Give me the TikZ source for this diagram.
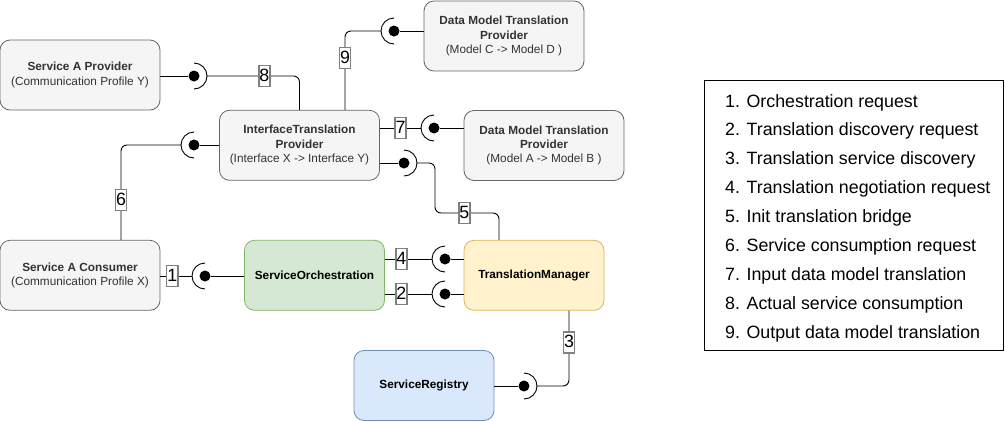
\documentclass[tikz,border=0pt]{standalone}
\usepackage{fontspec}
\setmainfont{Liberation Sans}
\usetikzlibrary{positioning, calc}
\definecolor{greyfill}{HTML}{F5F5F5}
\definecolor{greyline}{HTML}{666666}
\definecolor{greytext}{HTML}{333333}
\definecolor{greenfill}{HTML}{D5E8D4}
\definecolor{greenline}{HTML}{82B366}
\definecolor{yellowfill}{HTML}{FFF2CC}
\definecolor{yellowline}{HTML}{D6B656}
\definecolor{bluefill}{HTML}{DAE8FC}
\definecolor{blueline}{HTML}{6C8EBF}
\definecolor{numline}{HTML}{808080}

\begin{document}
\begin{tikzpicture}[x=1pt, y=-1pt,
  box/.style={draw=greyline, fill=greyfill, text=greytext, rounded corners=10pt,
    minimum width=160pt, minimum height=70pt, align=center, line width=0.8pt,
    font=\fontsize{11.8}{14.4}\selectfont},
  comp/.style={box, minimum width=140pt, text=black,
    font=\fontsize{11.8}{14.4}\selectfont\bfseries},
  num/.style={draw=numline, fill=white, sharp corners, line width=1.6pt, inner xsep=0.7pt, inner ysep=2pt,
    font=\fontsize{17.8}{20}\selectfont, text height=14pt, text depth=3pt},
  wire/.style={line width=0.9pt, rounded corners=6pt},
  ball/.style={circle, fill=black, inner sep=0pt, minimum size=11pt},
  item/.style={anchor=base west, inner sep=0pt, font=\fontsize{17.8}{20}\selectfont},
]
  \useasboundingbox (0,0) rectangle (1005,421);

  % components
  \node[box] (prov) at (80,75) {\textbf{Service A Provider}\\(Communication Profile Y)};
  \node[box] (itp) at (299.5,145.3) {\textbf{InterfaceTranslation}\\\textbf{Provider}\\(Interface X -> Interface Y)};
  \node[box] (dmcd) at (504,36) {\textbf{Data Model Translation}\\\textbf{Provider}\\(Model C -> Model D )};
  \node[box] (dmab) at (544,145.5) {\textbf{Data Model Translation}\\\textbf{Provider}\\(Model A -> Model B )};
  \node[box] (cons) at (80,275.3) {\textbf{Service A Consumer}\\(Communication Profile X)};
  \node[comp, draw=greenline, fill=greenfill] (orch) at (314.5,275.3) {ServiceOrchestration};
  \node[comp, draw=yellowline, fill=yellowfill] (tm) at (534,275.3) {TranslationManager};
  \node[comp, draw=blueline, fill=bluefill] (reg) at (424,385.5) {ServiceRegistry};

  % provided interfaces (balls)
  \node[ball] (b1) at (205,276) {};
  \node[ball] (b2) at (445,294) {};
  \node[ball] (b3) at (524,386) {};
  \node[ball] (b4) at (445,259) {};
  \node[ball] (b5) at (404,163) {};
  \node[ball] (b6) at (194,145) {};
  \node[ball] (b7) at (434,128) {};
  \node[ball] (b8) at (194,76) {};
  \node[ball] (b9) at (394,31) {};

  % required interfaces (sockets)
  \foreach \b/\d in {1/-1, 2/-1, 3/1, 4/-1, 5/1, 6/-1, 7/-1, 8/1, 9/-1} {
    \coordinate (s\b) at ($(b\b)+(\d*13,0)$);
    \draw[line width=0.9pt] ($(b\b)+(0,\d*13)$) arc[start angle={-90*\d}, end angle={-90*\d+180}, radius=13pt];
  }

  % connections
  \draw[wire] (cons.east |- b1) -- node[num, pos=0.375]{1} (s1);
  \draw[wire] (b1) -- (orch.west |- b1);
  \draw[wire] (orch.east |- b2) -- node[num, pos=0.35]{2} (s2);
  \draw[wire] (b2) -- (tm.west |- b2);
  \draw[wire] (s3) -| node[num, pos=0.79]{3} ([xshift=35pt]tm.south);
  \draw[wire] (reg.east |- b3) -- (b3);
  \draw[wire] (orch.east |- b4) -- node[num, pos=0.35]{4} (s4);
  \draw[wire] (b4) -- (tm.west |- b4);
  \draw[wire] (s5) -- ++(18,0) -- ++(0,50) -| node[num, pos=0.23]{5} ([xshift=-35pt]tm.north);
  \draw[wire] (itp.east |- b5) -- (b5);
  \draw[wire] (s6) -| node[num, pos=0.79]{6} ([xshift=41pt]cons.north);
  \draw[wire] (itp.west |- b6) -- (b6);
  \draw[wire] (itp.east |- b7) -- node[num]{7} (s7);
  \draw[wire] (b7) -- (dmab.west |- b7);
  \draw[wire] (s8) -| node[num, pos=0.31]{8} (itp.north);
  \draw[wire] (prov.east |- b8) -- (b8);
  \draw[wire] (s9) -| node[num, pos=0.67]{9} ([xshift=45.5pt]itp.north);
  \draw[wire] (dmcd.west |- b9) -- (b9);

  % legend
  \node[draw, line width=0.9pt, minimum width=299pt, minimum height=270pt] (legend) at (853.5,215) {};
  \foreach \t [count=\i] in {Orchestration request, Translation discovery request,
      Translation service discovery, Translation negotiation request,
      Init translation bridge, Service consumption request,
      Input data model translation, Actual service consumption,
      Output data model translation}
    \node[item] (item\i) at (725, 78.1+28.9*\i) {\i. \t};
\end{tikzpicture}
\end{document}
